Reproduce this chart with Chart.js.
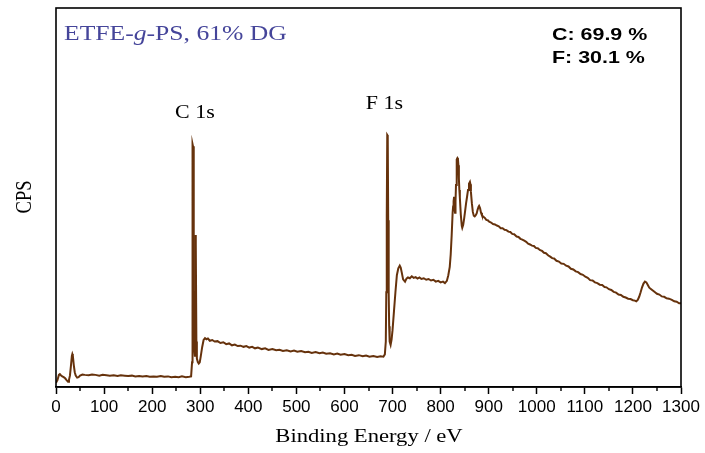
<!DOCTYPE html>
<html>
<head>
<meta charset="utf-8">
<script src="https://cdn.jsdelivr.net/npm/chart.js@4"></script>
<style>
body { margin: 0; background: #fff; }
#wrap { width: 705px; height: 453px; }
</style>
</head>
<body>
<div id="wrap"><canvas id="xpsChart"></canvas></div>
<script>
// survey spectrum, binding energy (eV) vs intensity (arb. CPS)
const energy = [
  0, 3, 6, 8, 10, 13, 16, 19, 22, 25, 27, 29, 31, 33, 34, 35, 37, 39, 41, 44, 47, 50, 55, 60,
  68, 75, 82, 90, 97, 105, 112, 120, 128, 135, 143, 150, 158, 165, 173, 180, 188, 195, 203, 210,
  218, 225, 233, 240, 248, 255, 262, 270, 277, 281, 283, 284, 285, 286, 287, 288, 289, 290, 290.5,
  291, 292, 293, 295, 297, 299, 301, 304, 307, 310, 313, 316, 320, 325, 330, 336, 342, 348, 354,
  360, 366, 372, 378, 384, 390, 396, 402, 408, 414, 420, 428, 435, 442, 450, 458, 465, 472, 480,
  488, 495, 502, 510, 518, 525, 532, 540, 548, 555, 562, 570, 578, 585, 592, 600, 608, 615, 622,
  630, 638, 645, 652, 660, 668, 675, 681, 684, 686, 687, 688, 689, 690, 691, 692, 693, 694, 696,
  698, 700, 703, 706, 709, 712, 715, 717, 719, 722, 726, 729, 732, 736, 740, 744, 748, 752, 756,
  760, 765, 770, 775, 780, 785, 790, 795, 800, 805, 809, 813, 816, 819, 821, 823, 825, 826, 827,
  828, 829, 830, 831, 832, 833, 834, 835, 836, 837, 838, 839, 840, 842, 844, 845, 847, 849, 851,
  853, 855, 857, 859, 861, 862, 863, 865, 867, 869, 871, 873, 875, 877, 879, 880, 882, 884, 886,
  889, 892, 895, 898, 901, 905, 909, 913, 917, 921, 925, 929, 933, 937, 941, 945, 949, 953, 958,
  962, 966, 970, 974, 978, 982, 986, 990, 994, 998, 1002, 1007, 1011, 1015, 1019, 1024, 1028,
  1032, 1036, 1041, 1046, 1051, 1056, 1061, 1066, 1071, 1076, 1081, 1086, 1091, 1096, 1101, 1106,
  1111, 1116, 1121, 1126, 1131, 1136, 1141, 1145, 1150, 1155, 1160, 1165, 1170, 1175, 1180, 1185,
  1190, 1195, 1200, 1204, 1207, 1210, 1213, 1216, 1219, 1222, 1225, 1228, 1231, 1234, 1238, 1242,
  1246, 1250, 1255, 1260, 1265, 1270, 1275, 1281, 1286, 1291, 1296, 1300
];
const cps = [
  1.1, 1.8, 3.2, 3.4, 3.1, 2.8, 2.6, 2.3, 1.8, 1.4, 1.9, 3.0, 5.5, 8.2, 8.7, 8.3, 5.8, 3.9, 3.0, 2.5, 2.6, 3.0, 3.3, 3.2,
  3.1, 3.3, 3.2, 3.0, 3.2, 3.1, 3.0, 3.1, 2.9, 3.1, 3.0, 2.9, 3.0, 2.8, 2.9, 2.8, 2.9, 2.7, 2.8, 2.7,
  2.9, 2.7, 2.8, 2.6, 2.7, 2.6, 2.8, 2.6, 2.7, 2.8, 6.5, 64.1, 63.5, 30, 14, 9.5, 8, 25, 40.1,
  38, 12, 7.5, 6.6, 6.2, 6.5, 8.0, 10.5, 12.4, 12.9, 12.6, 12.8, 12.2, 12.4, 12.0, 12.1, 11.6, 11.8, 11.3,
  11.5, 11.0, 11.2, 10.8, 10.9, 10.6, 10.8, 10.4, 10.6, 10.2, 10.4, 10.0, 10.2, 9.8, 10.0, 9.7, 9.8, 9.5, 9.7,
  9.4, 9.6, 9.3, 9.5, 9.2, 9.3, 9.0, 9.2, 8.9, 9.1, 8.8, 8.9, 8.6, 8.8, 8.5, 8.7, 8.4, 8.5, 8.2,
  8.4, 8.1, 8.3, 8.0, 8.2, 7.9, 8.1, 8.0, 8.6, 12, 25, 45, 66.5, 66.3, 44, 25, 16, 12, 11.1,
  12.5, 15, 20, 25, 29.5, 31.3, 32.0, 31.5, 30.3, 28.4, 27.8, 28.6, 28.9, 28.7, 29.2, 28.8, 29.0, 28.6, 28.9,
  28.5, 28.7, 28.3, 28.5, 28.1, 28.3, 27.8, 28.0, 27.6, 27.8, 27.4, 28.0, 29.5, 31.7, 35, 40, 46, 47.6, 49,
  50.2, 47, 46, 49, 53.3, 57, 60.0, 60.4, 60.2, 58.5, 55, 52, 50.0, 45.5, 42.5, 42.0, 42.8, 44.5, 46.5,
  48.5, 50.2, 52, 53.6, 54.1, 53.5, 51.5, 48.5, 46.2, 45.2, 45.0, 45.3, 45.8, 46.8, 47.6, 47.8, 47.2, 46.0, 45.3,
  44.9, 44.6, 44.1, 44.0, 43.6, 43.4, 43.0, 42.9, 42.6, 42.4, 41.9, 41.9, 41.5, 41.4, 41.0, 40.9, 40.4, 40.3, 39.7,
  39.6, 39.1, 38.9, 38.6, 38.3, 37.8, 37.6, 37.3, 37.2, 36.7, 36.6, 36.1, 35.9, 35.4, 35.3, 34.7, 34.4,
  34.0, 33.9, 33.3, 33.1, 32.6, 32.5, 32.0, 31.8, 31.2, 31.0, 30.5, 30.3, 29.8, 29.6, 29.1, 28.8,
  28.2, 28.1, 27.6, 27.4, 27.0, 26.9, 26.4, 26.3, 25.8, 25.6, 25.1, 24.9, 24.4, 24.3, 23.8, 23.6,
  23.3, 23.2, 22.9, 22.8, 22.6, 23.0, 23.8, 25.0, 26.3, 27.3, 27.8, 27.6, 26.9, 26.2, 25.8, 25.4,
  25.0, 24.6, 24.4, 23.9, 23.8, 23.4, 23.3, 23.0, 22.6, 22.5, 22.1, 22.1
];

const xTicks = [0, 100, 200, 300, 400, 500, 600, 700, 800, 900, 1000, 1100, 1200, 1300];
const peakLabels = [
  { text: "C 1s", at: 289, y: 118 },
  { text: "F 1s", at: 683, y: 109 }
];
const composition = ["C: 69.9 %", "F: 30.1 %"];

const serif = '"Liberation Serif", "Times New Roman", serif';
const sans = '"Liberation Sans", Arial, sans-serif';

// text in this figure is a bit wider than the font itself
function wideText(ctx, str, x, y, sx, align) {
  ctx.save();
  ctx.translate(x, y);
  ctx.scale(sx, 1);
  ctx.textAlign = align || "left";
  ctx.fillText(str, 0, 0);
  ctx.restore();
}

const decor = {
  id: "decor",
  afterDraw(chart) {
    const ctx = chart.ctx;
    const a = chart.chartArea;
    const xs = chart.scales.x;

    // frame
    ctx.save();
    ctx.strokeStyle = "#000";
    ctx.lineWidth = 1.6;
    ctx.strokeRect(a.left, a.top, a.right - a.left, a.bottom - a.top);

    // minor ticks
    ctx.lineWidth = 1.4;
    ctx.beginPath();
    for (let v = 50; v < 1300; v += 100) {
      const px = Math.round(xs.getPixelForValue(v));
      ctx.moveTo(px, a.bottom);
      ctx.lineTo(px, a.bottom + 4);
    }
    ctx.stroke();

    ctx.textBaseline = "alphabetic";

    // sample name
    ctx.fillStyle = "#45459a";
    ctx.save();
    ctx.translate(64, 40);
    ctx.scale(1.22, 1);
    let cx = 0;
    ctx.font = "21px " + serif;
    ctx.fillText("ETFE-", cx, 0);
    cx += ctx.measureText("ETFE-").width;
    ctx.font = "italic 21px " + serif;
    ctx.fillText("g", cx, 0);
    cx += ctx.measureText("g").width;
    ctx.font = "21px " + serif;
    ctx.fillText("-PS, 61% DG", cx, 0);
    ctx.restore();

    // composition
    ctx.fillStyle = "#000";
    ctx.font = "bold 17px " + sans;
    wideText(ctx, composition[0], 552, 40, 1.26);
    wideText(ctx, composition[1], 552, 63, 1.26);

    // peak names
    ctx.font = "18px " + serif;
    peakLabels.forEach(p => {
      wideText(ctx, p.text, xs.getPixelForValue(p.at), p.y, 1.22, "center");
    });

    // axis titles
    ctx.font = "19px " + serif;
    wideText(ctx, "Binding Energy / eV", 369, 442, 1.19, "center");

    ctx.save();
    ctx.translate(31, 197);
    ctx.rotate(-Math.PI / 2);
    ctx.scale(1, 1.2);
    ctx.font = "18.5px " + serif;
    ctx.textAlign = "center";
    ctx.fillText("CPS", 0, 0);
    ctx.restore();

    ctx.restore();
  }
};

new Chart(
  document.getElementById("xpsChart"),
  {
    type: "line",
    data: {
      datasets: [{
        label: "ETFE-g-PS",
        data: energy.map((e, i) => ({ x: e, y: cps[i] })),
        borderColor: "#66320c",
        borderWidth: 2,
        pointRadius: 0,
        tension: 0,
        fill: false
      }]
    },
    options: {
      responsive: true,
      maintainAspectRatio: false,
      animation: false,
      layout: { padding: { top: 8, right: 24, left: 56, bottom: 0 } },
      plugins: {
        legend: { display: false },
        tooltip: { enabled: false }
      },
      scales: {
        x: {
          type: "linear",
          min: 0,
          max: 1300,
          afterBuildTicks: scale => { scale.ticks = xTicks.map(v => ({ value: v })); },
          afterFit: scale => { scale.height = 66; },
          ticks: {
            color: "#000",
            font: { family: sans, size: 17 },
            maxRotation: 0,
            autoSkip: false,
            padding: 3,
            callback: v => String(v)
          },
          grid: {
            drawOnChartArea: false,
            drawTicks: true,
            tickLength: 7,
            tickColor: "#000",
            tickWidth: 1.5
          },
          border: { display: true, color: "#000", width: 1.6 }
        },
        y: {
          display: false,
          min: 0,
          max: 100
        }
      }
    },
    plugins: [decor]
  }
);
</script>
</body>
</html>
